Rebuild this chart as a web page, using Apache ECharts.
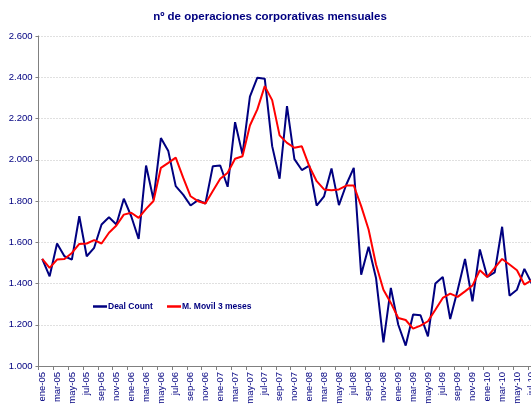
<!DOCTYPE html>
<html><head><meta charset="utf-8">
<script src="https://cdn.jsdelivr.net/npm/echarts@6/dist/echarts.min.js"></script>
<style>html,body{margin:0;padding:0;background:#fff}#c{width:531px;height:412px}</style>
</head><body><div id="c"></div>
<script>
const monthNames = ['ene','feb','mar','abr','may','jun','jul','ago','sep','oct','nov','dic'];
const years = ['05','06','07','08','09','10'];
const categories = [];
for (const y of years) for (const m of monthNames) { if (categories.length < 67) categories.push(m + '-' + y); }

const dealCount = [1519,1435,1594,1532,1516,1726,1532,1573,1686,1721,1686,1811,
  1726,1616,1972,1807,2105,2042,1872,1831,1778,1804,1788,1969,
  1972,1869,2182,2026,2306,2398,2393,2066,1908,2260,2003,1950,
  1972,1778,1823,1958,1780,1880,1961,1443,1578,1427,1115,1379,
  1200,1099,1250,1246,1144,1400,1432,1228,1367,1519,1314,1565,
  1432,1454,1675,1341,1370,1471,1400];
const movil3 = [1519,1476,1516,1519,1548,1592,1594,1610,1594,1646,1681,1734,
  1743,1718,1762,1800,1961,1985,2010,1913,1823,1799,1788,1848,
  1908,1937,2005,2017,2166,2244,2357,2289,2118,2082,2058,2065,
  1969,1896,1856,1852,1856,1875,1875,1775,1662,1492,1370,1306,
  1233,1223,1181,1196,1217,1273,1330,1351,1335,1362,1390,1464,
  1432,1476,1519,1492,1464,1395,1416];
const seriesNames = ['Deal Count','M. Movil 3 meses'];
const titleText = 'nº de operaciones corporativas mensuales';

const navy = '#000080';
const font = '"Liberation Sans", Arial, sans-serif';
const chart = echarts.init(document.getElementById('c'));
chart.setOption({
  animation: false,
  backgroundColor: '#fff',
  title: { text: titleText, left: 270, top: 11, textAlign: 'center', padding: 0,
    textStyle: { color: navy, fontSize: 11.5, fontWeight: 'bold', fontFamily: font } },
  legend: [
    { data: [seriesNames[0]], left: 93, top: 302, padding: 0, icon: 'rect', itemWidth: 14, itemHeight: 2.5, itemGap: 2,
      textStyle: { color: navy, fontSize: 8.5, fontWeight: 'bold', fontFamily: font, padding: [0,0,0,-4] } },
    { data: [seriesNames[1]], left: 167, top: 302, padding: 0, icon: 'rect', itemWidth: 14, itemHeight: 2.5, itemGap: 2,
      textStyle: { color: navy, fontSize: 8.5, fontWeight: 'bold', fontFamily: font, padding: [0,0,0,-4] } }
  ],
  grid: { left: 38.5, top: 36, right: -4.5, bottom: 46, containLabel: false, outerBoundsMode: 'none' },
  xAxis: {
    type: 'category', data: categories, boundaryGap: true,
    axisLine: { lineStyle: { color: '#808080', width: 1 } },
    axisTick: { show: true, interval: 1, length: 4, lineStyle: { color: '#808080' } },
    axisLabel: { interval: 1, rotate: 90, color: navy, fontSize: 9.5, fontFamily: font, margin: 6 },
    splitLine: { show: false }
  },
  yAxis: {
    type: 'value', min: 1000, max: 2600, interval: 200,
    axisLine: { show: true, lineStyle: { color: '#808080', width: 1 } },
    axisTick: { show: true, length: 3, lineStyle: { color: '#808080' } },
    axisLabel: { color: navy, fontSize: 9.5, fontFamily: font, margin: 6,
      formatter: v => (v/1000).toFixed(3) },
    splitLine: { show: true, lineStyle: { color: '#c0c0c0', type: [1,2], width: 1 } }
  },
  series: [
    { name: seriesNames[0], type: 'line', data: dealCount, symbol: 'none',
      lineStyle: { color: navy, width: 2 }, itemStyle: { color: navy }, z: 2 },
    { name: seriesNames[1], type: 'line', data: movil3, symbol: 'none',
      lineStyle: { color: '#ff0000', width: 2 }, itemStyle: { color: '#ff0000' }, z: 3 }
  ]
});
</script></body></html>
